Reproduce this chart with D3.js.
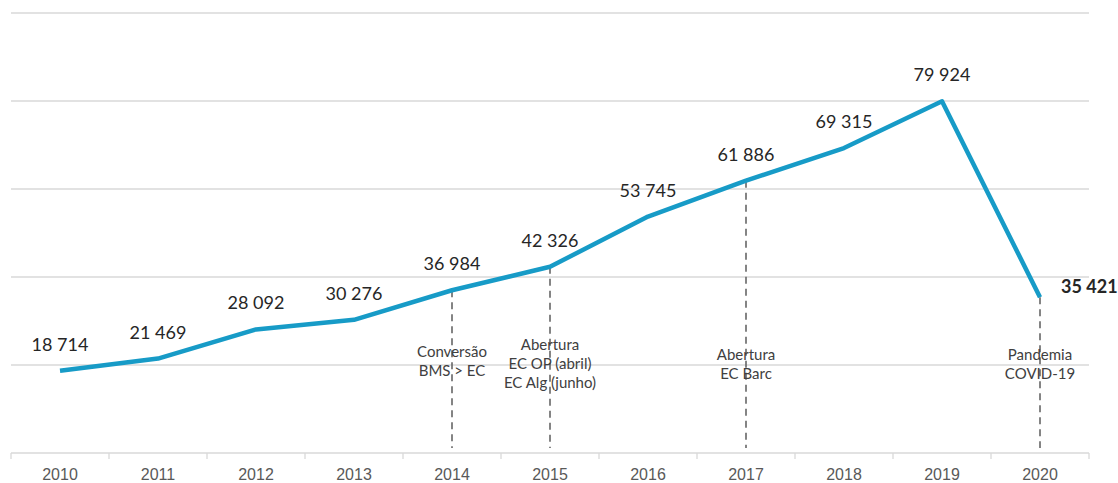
<!DOCTYPE html>
<html>
<head>
<meta charset="utf-8">
<script src="https://cdn.jsdelivr.net/npm/d3@7"></script>
<style>
  body { margin: 0; background: #fff; }
  svg { font-family: Lato, "Open Sans", sans-serif; }
  .grid line { stroke: #d9d9d9; stroke-width: 1.3; }
  .axis-x path, .axis-x line { stroke: #d9d9d9; stroke-width: 1.3; }
  .axis-x text { fill: #595959; font-size: 16px; }
  .val { fill: #262626; font-size: 18px; }
  .note { fill: #404040; font-size: 15px; }
</style>
</head>
<body>
<svg id="chart" width="1118" height="483"></svg>
<script>
// Visitors per year (line chart with event notes)
var years = ["2010", "2011", "2012", "2013", "2014", "2015", "2016", "2017", "2018", "2019", "2020"];
var values = [18714, 21469, 28092, 30276, 36984, 42326, 53745, 61886, 69315, 79924, 35421];
var gridTicks = [0, 20000, 40000, 60000, 80000, 100000];

// events marked by a dashed drop line
var noteYears = ["2014", "2015", "2017", "2020"];
var noteLines = [
    ["Conversão", "BMS > EC"],
    ["Abertura", "EC OP (abril)", "EC Alg (junho)"],
    ["Abertura", "EC Barc"],
    ["Pandemia", "COVID-19"]
];
var noteTop = [352, 345, 355, 355];

var margin = { top: 13, right: 29, bottom: 30, left: 11 },
    width = 1118 - margin.left - margin.right,
    height = 483 - margin.top - margin.bottom;

var svg = d3.select("#chart")
    .append("g")
    .attr("transform", "translate(" + margin.left + "," + margin.top + ")");

var x = d3.scaleBand().domain(years).range([0, width]);
var y = d3.scaleLinear().domain([0, 100000]).range([height, 0]);

// Grid lines
svg.append("g")
    .attr("class", "grid")
    .selectAll("line")
    .data(gridTicks.slice(1))
    .enter()
    .append("line")
    .attr("x1", 0)
    .attr("x2", width)
    .attr("y1", function (d) { return y(d); })
    .attr("y2", function (d) { return y(d); });

// X axis, ticks on band edges
var axisX = svg.append("g")
    .attr("class", "axis-x")
    .attr("transform", "translate(0," + height + ")")
    .call(d3.axisBottom(x).tickSize(0).tickPadding(16));
axisX.select(".domain").remove();
axisX.append("line").attr("x1", 0).attr("x2", width);
axisX.selectAll(".edge")
    .data(years.concat(["end"]))
    .enter()
    .append("line")
    .attr("class", "edge")
    .attr("x1", function (d, i) { return i * x.bandwidth(); })
    .attr("x2", function (d, i) { return i * x.bandwidth(); })
    .attr("y1", 0)
    .attr("y2", 6);

var cx = function (yr) { return x(yr) + x.bandwidth() / 2; };

// Event drop lines
svg.selectAll(".drop")
    .data(noteYears)
    .enter()
    .append("line")
    .attr("class", "drop")
    .attr("x1", function (d) { return cx(d); })
    .attr("x2", function (d) { return cx(d); })
    .attr("y1", function (d) { return y(values[years.indexOf(d)]); })
    .attr("y2", height - 5)
    .attr("stroke", "#666")
    .attr("stroke-width", 1.6)
    .attr("stroke-dasharray", "7,5");

// Event notes
noteYears.forEach(function (yr, i) {
    var t = svg.append("text")
        .attr("class", "note")
        .attr("text-anchor", "middle")
        .attr("x", cx(yr))
        .attr("y", noteTop[i] - margin.top);
    noteLines[i].forEach(function (s, j) {
        t.append("tspan")
            .attr("x", cx(yr))
            .attr("dy", j === 0 ? "0.35em" : 19)
            .text(s);
    });
});

// Line
var line = d3.line()
    .x(function (d, i) { return cx(years[i]); })
    .y(function (d) { return y(d); });

svg.append("path")
    .datum(values)
    .attr("fill", "none")
    .attr("stroke", "#179bc7")
    .attr("stroke-width", 4.5)
    .attr("stroke-linejoin", "round")
    .attr("d", line);

// Value labels
var fmt = function (v) { return d3.format(",")(v).replace(",", " "); };
var last = values.length - 1;

svg.selectAll(".val")
    .data(values)
    .enter()
    .append("text")
    .attr("class", "val")
    .attr("text-anchor", function (d, i) { return i === last ? "start" : "middle"; })
    .attr("font-weight", function (d, i) { return i === last ? "bold" : null; })
    .attr("x", function (d, i) { return i === last ? cx(years[i]) + 21 : cx(years[i]); })
    .attr("y", function (d, i) { return i === last ? y(d) - 4 : y(d) - 20; })
    .text(function (d) { return fmt(d); });
</script>
</body>
</html>
